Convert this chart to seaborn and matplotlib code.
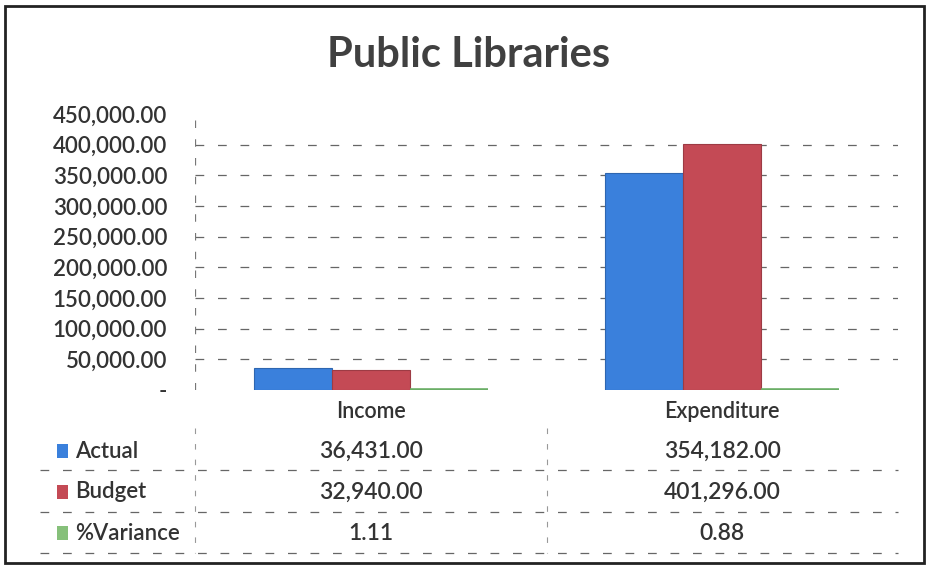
import matplotlib
matplotlib.use("Agg")
import matplotlib.pyplot as plt
import matplotlib.transforms as mtransforms
from matplotlib.patches import Rectangle
from matplotlib.lines import Line2D
import seaborn as sns
import pandas as pd

categories = ["Income", "Expenditure"]
series = ["Actual", "Budget", "%Variance"]
actual = [36431.00, 354182.00]
budget = [32940.00, 401296.00]
variance = [1.11, 0.88]
colors = ["#3a80dc", "#c44a55", "#86c07a"]
title = "Public Libraries"
y_ticks = [0, 50000, 100000, 150000, 200000, 250000, 300000, 350000, 400000, 450000]

sns.set_theme(style="white")
plt.rcParams["font.family"] = ["Lato", "DejaVu Sans"]

df = pd.DataFrame({
    "category": categories * 3,
    "series": [s for s in series for _ in categories],
    "value": actual + budget + variance,
})

W, H = 928, 567
TXT = "#333333"
WT = "semibold"
fig = plt.figure(figsize=(W / 100, H / 100), dpi=100)
ax = fig.add_axes([195 / W, 1 - 390 / H, (898 - 195) / W, (390 - 114) / H])

sns.barplot(data=df, x="category", y="value", hue="series", order=categories,
            hue_order=series, palette=colors, width=0.665, gap=0, ax=ax,
            legend=False, errorbar=None, saturation=1)

for p in ax.patches:
    fc = p.get_facecolor()
    p.set_edgecolor(tuple(c * 0.8 for c in fc[:3]))
    p.set_linewidth(0.8)
    if p.get_height() < 100:
        p.set_edgecolor("#6aae66")
        p.set_linewidth(2.6)

ax.set_ylim(0, 450000)
ax.set_yticks(y_ticks)
ax.set_yticklabels(["-" if v == 0 else f"{v:,.2f}" for v in y_ticks],
                   fontsize=16, color=TXT, fontweight=WT)
ax.tick_params(axis="y", length=0, pad=20)
ax.tick_params(axis="x", length=0, pad=8, labelsize=15.5, labelcolor=TXT)
for lab in ax.get_xticklabels():
    lab.set_fontweight(WT)
ax.set_xlabel("")
ax.set_ylabel("")
for v in y_ticks[1:-1]:
    ax.axhline(v, color="#666666", lw=0.9, ls=(0, (7, 11)), zorder=0)
for s in ax.spines.values():
    s.set_visible(False)
ax.axvline(-0.5, color="#777777", lw=0.9, ls=(0, (6, 9)), zorder=0)

# Title
fig.text(0.505, 1 - 55 / H, title, ha="center", va="center",
         fontsize=30, fontweight="bold", color="#404040")

# Data table
blend = mtransforms.blended_transform_factory(ax.transData, fig.transFigure)
row_y = [451, 492, 533]
values_rows = [actual, budget, variance]
for i, (name, vals, col) in enumerate(zip(series, values_rows, colors)):
    yf = 1 - row_y[i] / H
    fig.patches.append(Rectangle((57 / W, yf - 7 / H), 11 / W, 14 / H,
                                 transform=fig.transFigure, facecolor=col,
                                 edgecolor="none"))
    fig.text(75 / W, yf, name, ha="left", va="center", fontsize=16,
             color=TXT, fontweight=WT)
    for j, v in enumerate(vals):
        ax.text(j, yf, f"{v:,.2f}", transform=blend, ha="center", va="center",
                fontsize=16.5, color=TXT, fontweight=WT, clip_on=False)

for yl in [470, 512, 553]:
    fig.lines.append(Line2D([40 / W, 898 / W], [1 - yl / H] * 2,
                            transform=fig.transFigure, color="#666666",
                            lw=0.9, ls=(0, (7, 11))))
for xl in [195, 547]:
    fig.lines.append(Line2D([xl / W] * 2, [1 - 428 / H, 1 - 553 / H],
                            transform=fig.transFigure, color="#999999",
                            lw=0.8, ls=(0, (5, 9))))

# Outer border
fig.patches.append(Rectangle((5 / W, 4 / H), 919 / W, 557 / H,
                             transform=fig.transFigure, facecolor="none",
                             edgecolor="#222222", lw=2))

fig.savefig("out.png", dpi=100)
